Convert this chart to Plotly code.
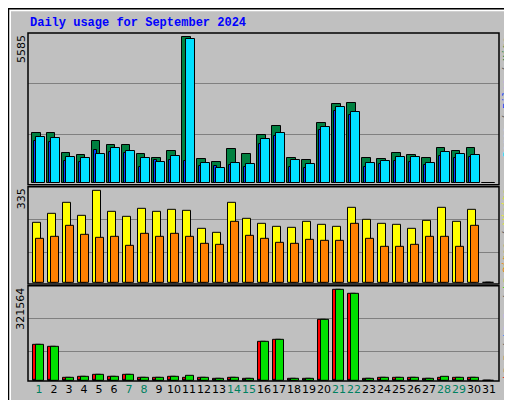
import plotly.graph_objects as go

days = list(range(1, 32))
weekend = [1, 7, 8, 14, 15, 21, 22, 28, 29]
hits = [1891,1891,1142,1053,1586,1434,1434,1091,939,1206,5585,901,787,1282,1091,1815,2195,939,863,2310,3033,3071,939,901,1129,1053,939,1320,1206,1320,0]
files = [1739,1700,977,939,1091,1320,1206,939,787,1015,5508,749,558,749,711,1662,1929,863,711,2157,2919,2728,749,825,977,977,749,1167,1091,1053,0]
pages = [1586,1548,825,787,1244,1167,1129,596,863,863,825,635,635,673,596,1472,1777,596,558,2043,2766,2614,596,711,825,787,673,1015,939,977,0]
visits = [219,252,291,244,335,259,241,270,259,266,262,197,183,291,233,215,204,201,223,212,204,273,230,215,212,197,226,273,223,266,0]
sites = [161,168,208,175,164,168,135,179,168,179,168,143,139,223,172,161,146,143,157,154,154,215,161,132,132,139,168,168,132,208,0]
kb_out = [127900,122000,11700,15300,20000,15300,20000,11700,11700,15300,16400,11700,8200,11700,8200,138500,146700,8200,8200,216000,321564,307500,8200,11700,11700,11700,8200,15300,11700,11700,0]
kb_f = [127900,118500,11700,15300,20000,15300,20000,11700,11700,15300,11700,11700,8200,11700,8200,138500,146700,8200,8200,216000,321564,307500,8200,11700,11700,11700,8200,11700,11700,11700,0]
kb_in = [1500]*30 + [0]

BG = "#C0C0C0"
line = dict(color="black", width=1)
fig = go.Figure()
def bar(y, color, off, w, ax):
    fig.add_trace(go.Bar(x=days, y=y, offset=off, width=w, marker=dict(color=color, line=line),
                         xaxis="x" if ax == 1 else f"x{ax}", yaxis="y" if ax == 1 else f"y{ax}",
                         showlegend=False, hoverinfo="skip"))
bar(hits, "#008040", -0.45, 0.55, 1)
bar(pages, "#0040FF", -0.32, 0.2, 1)
bar(files, "#00E0FF", -0.22, 0.6, 1)
bar(visits, "#FFFF00", -0.43, 0.55, 2)
bar(sites, "#FF8000", -0.18, 0.5, 2)
bar(kb_f, "#FF0000", -0.43, 0.55, 3)
bar(kb_in, "#0080FF", -0.35, 0.15, 3)
bar(kb_out, "#00E000", -0.18, 0.5, 3)

xr = [0.267, 31.667]
ticktext = [f'<span style="color:{"#008060" if d in weekend else "black"}">{d}</span>' for d in days]
common_x = dict(range=xr, showgrid=False, zeroline=False, fixedrange=True)
gridy = dict(showgrid=True, gridcolor="#808080", gridwidth=1, zeroline=False, showticklabels=False, ticks="")
fig.update_layout(
    width=512, height=400, paper_bgcolor=BG, plot_bgcolor=BG,
    margin=dict(l=20, r=21, t=25, b=24), barmode="overlay", bargap=0,
    xaxis=dict(**common_x, anchor="y", showticklabels=False),
    xaxis2=dict(**common_x, anchor="y2", matches="x", showticklabels=False),
    xaxis3=dict(**common_x, anchor="y3", matches="x", tickvals=days, ticktext=ticktext, tickangle=0,
                tickfont=dict(family="DejaVu Sans", size=11), ticks=""),
    yaxis=dict(domain=[0.564, 1], range=[-76, 5749], tickvals=[1854, 3796], **gridy),
    yaxis2=dict(domain=[0.279, 0.558], range=[-3.6, 349], tickvals=[109, 229.5], **gridy),
    yaxis3=dict(domain=[0, 0.2735], range=[-1055, 336700], tickvals=[102000, 219500], **gridy),
    font=dict(family="DejaVu Sans", size=11, color="black"),
)
shapes = []
for (y0, y1) in [(0.564, 1), (0.279, 0.558), (0, 0.2735)]:
    shapes.append(dict(type="rect", xref="paper", yref="paper", x0=0, x1=1, y0=y0, y1=y1,
                       line=dict(color="black", width=1.5), layer="above"))
shapes.append(dict(type="rect", xref="paper", yref="paper", x0=-18/471, x1=1+18/471, y0=-21/351, y1=1+23/351,
                   line=dict(color="white", width=2), layer="below"))
shapes.append(dict(type="line", xref="paper", yref="paper", x0=1+18/471, x1=1+18/471, y0=-21/351, y1=1+23/351,
                   line=dict(color="#808080", width=3)))
shapes.append(dict(type="line", xref="paper", yref="paper", x0=-18/471, x1=1+18/471, y0=-21/351, y1=-21/351,
                   line=dict(color="#808080", width=3)))
shapes.append(dict(type="rect", xref="paper", yref="paper", x0=-19.5/471, x1=1+20.5/471, y0=-23.5/351, y1=1+24.5/351,
                   line=dict(color="black", width=1.5)))
fig.update_layout(shapes=shapes)

mono = "Liberation Mono"
ann = [
    dict(x=0, y=1 + 10/351, xref="paper", yref="paper", xanchor="left", yanchor="middle",
         text="<b>Daily usage for September 2024</b>", showarrow=False,
         font=dict(family=mono, size=12, color="#0000FF")),
]
for val, ytop in [("5585", 1.0), ("335", 0.558), ("321564", 0.2735)]:
    ann.append(dict(x=-7/471, y=ytop, xref="paper", yref="paper", xanchor="center", yanchor="top",
                    text=val, textangle=-90, showarrow=False, font=dict(family="DejaVu Sans", size=11)))
def sp(t, c):
    return f'<span style="color:{c}">{t}</span>'
g = "#606060"
af = dict(family=mono, size=10)
ann.append(dict(x=1 + 9/471, y=1 - 2/351, xref="paper", yref="paper", xanchor="center", yanchor="top", textangle=-90,
                showarrow=False, font=af,
                text=sp("Pages", "#00E0FF") + sp(" / ", g) + sp("Files", "#0040FF") + sp(" / ", g) + sp("Hits", "#008040")))
ann.append(dict(x=1 + 9/471, y=0.558, xref="paper", yref="paper", xanchor="center", yanchor="top", textangle=-90,
                showarrow=False, font=af,
                text=sp("Sites", "#FF8000") + sp(" / ", g) + sp("Visits", "#FFFF00")))
ann.append(dict(x=1 + 9/471, y=0, xref="paper", yref="paper", xanchor="center", yanchor="bottom", textangle=-90,
                showarrow=False, font=af,
                text=sp("kB F", "#FF0000") + sp(" / ", g) + sp("kB In", "#0080FF") + sp(" / ", g) + sp("kB Out", "#00E000")))
fig.update_layout(annotations=ann)
fig.write_html("out.html")
